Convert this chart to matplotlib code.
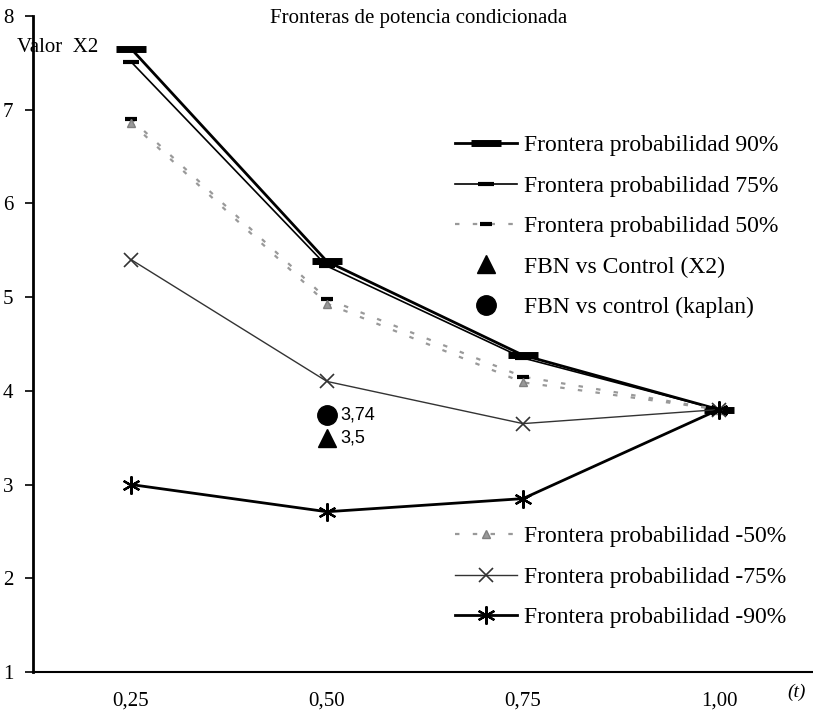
import matplotlib

matplotlib.use("Agg")

import matplotlib.pyplot as plt

plt.rcParams["font.family"] = ["Liberation Serif", "DejaVu Serif"]

t_labels = ["0,25", "0,50", "0,75", "1,00"]
t_pos = [1, 2, 3, 4]
front_90 = [7.65, 5.38, 4.38, 3.80]
front_75 = [7.51, 5.33, 4.35, 3.80]
front_50 = [6.90, 4.98, 4.15, 3.80]
front_m50 = [6.86, 4.93, 4.09, 3.80]
front_m75 = [5.40, 4.10, 3.65, 3.80]
front_m90 = [3.00, 2.71, 2.85, 3.80]
fbn_pos = 2
fbn_x2 = 3.5
fbn_kaplan = 3.74

fig = plt.figure(figsize=(8.13, 7.18), dpi=100)
ax = fig.add_axes([0.0406, 0.064, 0.9594, 0.914])

l90, = ax.plot(t_pos, front_90, color="black", lw=2.0, marker="_", ms=22, mew=5,
               label="Frontera probabilidad 90%")
l75, = ax.plot(t_pos, front_75, color="black", lw=1.2, marker="_", ms=12, mew=3,
               label="Frontera probabilidad 75%")
l50, = ax.plot(t_pos, front_50, color="0.6", lw=1.6, ls=(0, (2, 6)), marker="_",
               ms=9, mew=3, mec="black", label="Frontera probabilidad 50%")
lx2, = ax.plot([fbn_pos], [fbn_x2], ls="none", marker="^", ms=13, color="black",
               label="FBN vs Control (X2)")
lkm, = ax.plot([fbn_pos], [fbn_kaplan], ls="none", marker="o", ms=14, color="black",
               label="FBN vs control (kaplan)")
lm50, = ax.plot(t_pos, front_m50, color="0.6", lw=1.6, ls=(0, (2, 6)), marker="^",
                ms=6, mfc="0.6", mec="0.5", label="Frontera probabilidad -50%")
lm75, = ax.plot(t_pos, front_m75, color="0.2", lw=1.0, marker="x", ms=10, mew=1.2,
                label="Frontera probabilidad -75%")
lm90, = ax.plot(t_pos, front_m90, color="black", lw=2.0, marker=(6, 2, 0), ms=13,
                mew=1.6, label="Frontera probabilidad -90%")

ax.text(fbn_pos + 0.07, fbn_kaplan, "3,74", family="Liberation Sans", fontsize=13,
        va="center", ha="left")
ax.text(fbn_pos + 0.07, fbn_x2, "3,5", family="Liberation Sans", fontsize=13,
        va="center", ha="left")

ax.set_xlim(0.5, 4.48)
ax.set_ylim(1, 8)
ax.set_xticks(t_pos)
ax.set_xticklabels(t_labels)
ax.set_yticks(range(1, 9))
ax.tick_params(axis="x", length=0, labelsize=15, pad=14)
ax.tick_params(axis="y", direction="out", length=6, width=1.2, labelsize=15, pad=8)
for side in ("top", "right"):
    ax.spines[side].set_visible(False)
ax.spines["left"].set_linewidth(2.0)
ax.spines["bottom"].set_linewidth(1.5)

# axis captions sit inside the plot area, as in the original sheet
ax.text(0.42, 7.66, "Valor  X2", fontsize=15, va="center", ha="left", clip_on=False)
ax.text(4.35, 0.78, "(t)", fontsize=14, style="italic", ha="left", va="center")
fig.text(0.515, 0.974, "Fronteras de potencia condicionada", fontsize=15,
         ha="center", va="center")

leg1 = ax.legend(handles=[l90, l75, l50, lx2, lkm], loc="upper left",
                 bbox_to_anchor=(0.514, 0.851), frameon=False, fontsize=17,
                 handlelength=2.6, handletextpad=0.3, labelspacing=0.8)
ax.add_artist(leg1)
ax.legend(handles=[lm50, lm75, lm90], loc="upper left",
          bbox_to_anchor=(0.514, 0.255), frameon=False, fontsize=17,
          handlelength=2.6, handletextpad=0.3, labelspacing=0.8)

fig.savefig("out.png", dpi=100)
